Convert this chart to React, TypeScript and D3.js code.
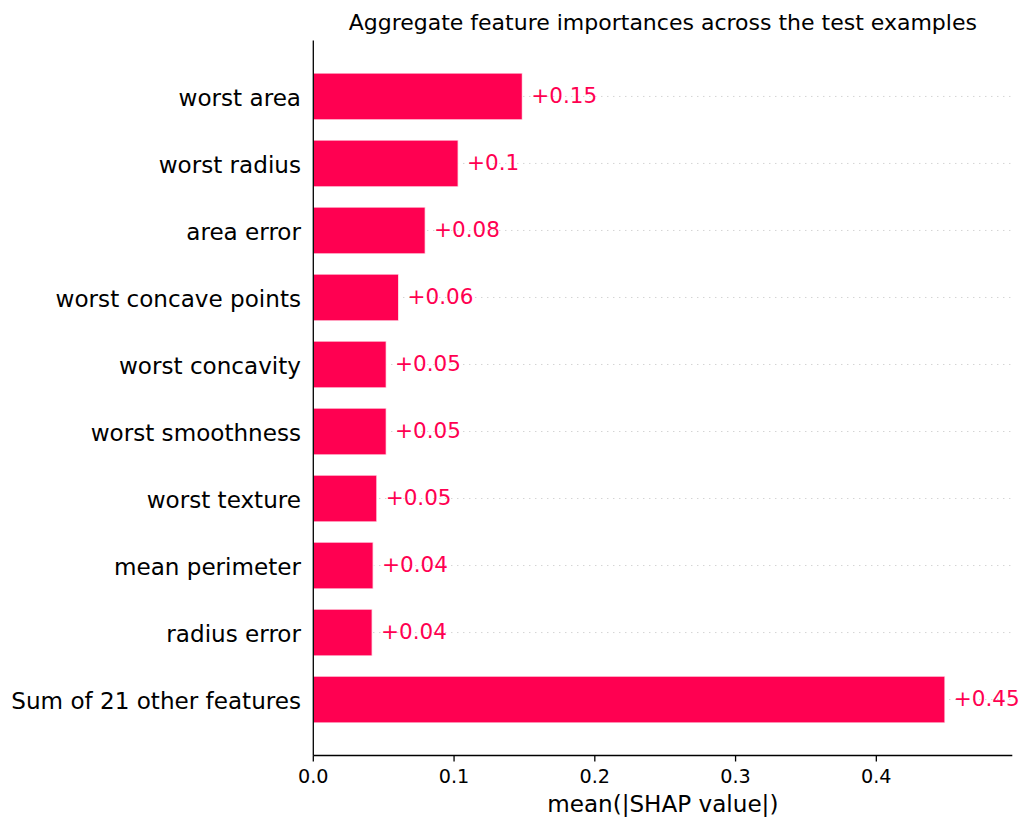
import React from "react";
import * as d3 from "d3";

const features = [
  "worst area",
  "worst radius",
  "area error",
  "worst concave points",
  "worst concavity",
  "worst smoothness",
  "worst texture",
  "mean perimeter",
  "radius error",
  "Sum of 21 other features",
];
const importances = [0.1486, 0.103, 0.0796, 0.0607, 0.0519, 0.0519, 0.0452, 0.0426, 0.0419, 0.4488];
const xTicks = [0, 0.1, 0.2, 0.3, 0.4];
const xMax = 0.4966;
const title = "Aggregate feature importances across the test examples";
const xLabel = "mean(|SHAP value|)";

const RED = "#ff0051";
const FONT = "'DejaVu Sans', Verdana, sans-serif";

function fmtValue(v: number): string {
  const s = d3.format("+.2f")(v);
  return s.replace(/\.?0+$/, "");
}

export default function App() {
  const W = 1033;
  const H = 832;
  const left = 313.3;
  const right = 1012.3;
  const top = 40.5;
  const bottom = 755.5;
  const n = features.length;

  const x = d3.scaleLinear().domain([0, xMax]).range([left, right]);
  const y = d3
    .scaleLinear()
    .domain([-0.835, n - 1 + 0.835])
    .range([bottom, top]);
  const pos = (i: number) => y(n - 1 - i);
  const barH = Math.abs(y(0) - y(0.7));
  const offset = xMax / 80;

  return (
    <svg
      width={W}
      height={H}
      style={{ position: "absolute", left: 0, top: 0, background: "#fff" }}
      fontFamily={FONT}
    >
      <rect x={0} y={0} width={W} height={H} fill="#fff" />
      {/* grid lines */}
      {features.map((f, i) => (
        <line
          key={"g" + i}
          x1={left}
          x2={right}
          y1={pos(i)}
          y2={pos(i)}
          stroke="#bbbbbb"
          strokeWidth={0.9}
          strokeDasharray="1,5"
        />
      ))}
      {/* bars */}
      {importances.map((v, i) => (
        <rect
          key={"b" + i}
          x={x(0)}
          y={pos(i) - barH / 2}
          width={x(v) - x(0)}
          height={barH}
          fill={RED}
          stroke="rgba(255,255,255,0.8)"
          strokeWidth={1.4}
        />
      ))}
      {/* value labels */}
      {importances.map((v, i) => (
        <text
          key={"v" + i}
          x={x(v + offset)}
          y={pos(i) + 6.9}
          fill={RED}
          fontSize={21.5}
        >
          {fmtValue(v)}
        </text>
      ))}
      {/* y labels */}
      {features.map((f, i) => (
        <text
          key={"l" + i}
          x={301}
          y={pos(i) + 9.3}
          textAnchor="end"
          fontSize={23.1}
          fill="#000"
        >
          {f}
        </text>
      ))}
      {/* axes */}
      <line x1={left} x2={left} y1={top} y2={bottom} stroke="#000" strokeWidth={1.3} />
      <line x1={left} x2={right} y1={bottom} y2={bottom} stroke="#000" strokeWidth={1.3} />
      {xTicks.map((t, i) => (
        <g key={"t" + i}>
          <line x1={x(t)} x2={x(t)} y1={bottom} y2={bottom + 6} stroke="#000" strokeWidth={1.3} />
          <text x={x(t)} y={783} textAnchor="middle" fontSize={19.2} fill="#000">
            {d3.format(".1f")(t)}
          </text>
        </g>
      ))}
      <text x={(left + right) / 2} y={812} textAnchor="middle" fontSize={23.1} fill="#000">
        {xLabel}
      </text>
      <text x={(left + right) / 2} y={30} textAnchor="middle" fontSize={22} fill="#000">
        {title}
      </text>
    </svg>
  );
}
